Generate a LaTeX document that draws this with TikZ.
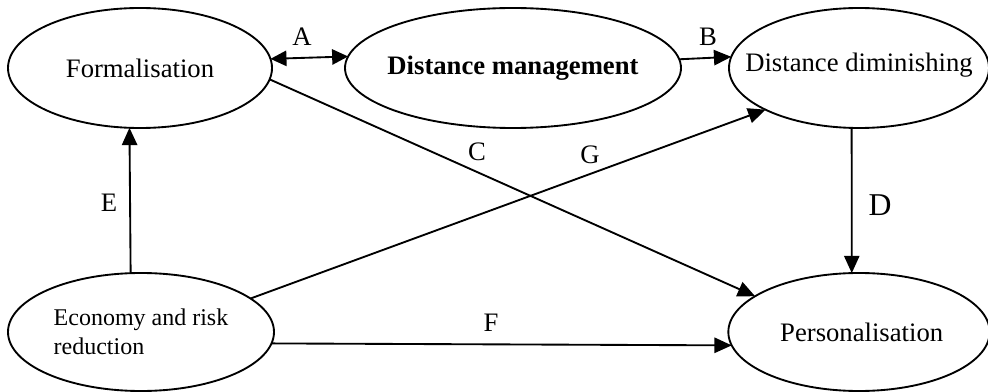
\documentclass[tikz,border=0pt]{standalone}
\usepackage{fontspec}
\setmainfont{Liberation Serif}
\usetikzlibrary{shapes.geometric,arrows.meta}
\begin{document}
\begin{tikzpicture}[x=0.75pt,y=-0.75pt,
  oval/.style={draw, ellipse, line width=1.4pt, inner sep=0pt, outer sep=0pt},
  txt/.style={font=\fontsize{20}{24}\selectfont, inner sep=0pt},
  conn/.style={line width=1.4pt, -{Triangle[length=13pt,width=11.5pt]}},
  dconn/.style={line width=1.4pt, {Triangle[length=12pt,width=11.5pt]}-{Triangle[length=12pt,width=11.5pt]}},
  lbl/.style={font=\fontsize{20}{24}\selectfont, inner sep=0pt}]
\useasboundingbox (0,0) rectangle (988,392);
\node[oval, minimum width=198pt, minimum height=90pt,
  label={[txt]center:Formalisation}] (form) at (140,68) {};
\node[oval, minimum width=252pt, minimum height=90pt,
  label={[txt]center:\textbf{Distance management}}] (dm) at (513,68) {};
\node[oval, minimum width=195pt, minimum height=90pt,
  label={[txt,yshift=2pt]center:Distance diminishing}] (dd) at (859,68) {};
\node[oval, minimum width=199.5pt, minimum height=88.5pt,
  label={[txt,align=left,font=\fontsize{18}{21.75}\selectfont]center:Economy and risk\\reduction}] (econ) at (141,332) {};
\node[oval, minimum width=196pt, minimum height=88.5pt,
  label={[txt,xshift=2pt]center:Personalisation}] (pers) at (859,332) {};
% connectors
\draw[dconn] (form.4.8) -- (dm.176.2);
\draw[conn] (dm.3.8) -- (dd.175);
\draw[conn] (form.-5.6) -- (pers.161.7);
\draw[conn] (econ.17.8) -- (dd.204.6);
\draw[conn] (econ.-5.6) -- (pers.186.6);
\draw[conn] (dd.263.3) -- (pers.97.6);
\draw[conn] (econ.100.6) -- (form.260.5);
% labels
\node[lbl] (la) at (302,37) {A};
\node[lbl] (lb) at (708,37) {B};
\node[lbl] (lc) at (477,152) {C};
\node[lbl] (lg) at (590,155) {G};
\node[lbl, font=\fontsize{23.8}{28}\selectfont] (ld) at (880,205) {D};
\node[lbl] (le) at (109,203) {E};
\node[lbl] (lf) at (491,323) {F};
\end{tikzpicture}
\end{document}
